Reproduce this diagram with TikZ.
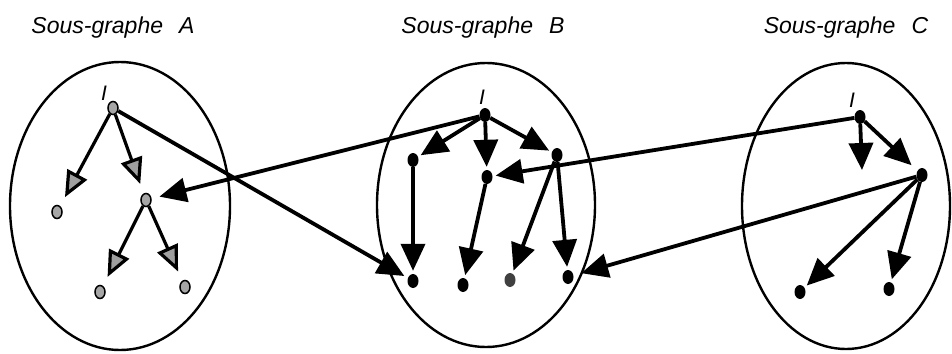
\documentclass[tikz,border=0pt]{standalone}
\usepackage{fontspec}
\setmainfont{Liberation Sans}
\usetikzlibrary{arrows.meta,shapes.geometric}
\tikzset{
  point/.style={ellipse,fill=black,inner sep=0pt,minimum width=11pt,minimum height=14pt},
  pointgris/.style={ellipse,draw=black,fill=gray!70,line width=1.5pt,inner sep=0pt,minimum width=10pt,minimum height=13pt},
  arc/.style={line width=3.8pt,shorten >=3pt,-{Triangle[length=27pt,width=24pt]}},
  arcgris/.style={line width=3.2pt,shorten >=10pt,-{Triangle[length=26pt,width=22pt,fill=gray!75]}},
  titre/.style={font=\itshape\fontsize{23}{27}\selectfont},
  racine/.style={font=\itshape\fontsize{21}{25}\selectfont}
}
\begin{document}
\begin{tikzpicture}[x=1pt,y=-1pt]
\useasboundingbox (0,0) rectangle (952,353);
\node[titre] (tA) at (113,28) {Sous-graphe\hspace{0.7em}A};
\node[titre] (tB) at (483,28) {Sous-graphe\hspace{0.7em}B};
\node[titre] (tC) at (846,28) {Sous-graphe\hspace{0.7em}C};
\draw[line width=2.4pt] (120,206) ellipse [x radius=110,y radius=144];
\draw[line width=2.4pt] (486,205) ellipse [x radius=109,y radius=142];
\draw[line width=2.4pt] (846,206) ellipse [x radius=104,y radius=143];
\node[pointgris] (A0) at (113,108) {};
\node[pointgris] (A1) at (57,212) {};
\node[pointgris] (A2) at (146,200) {};
\node[pointgris] (A3) at (100,292) {};
\node[pointgris] (A4) at (185,287) {};
\node[racine] (lA) at (104,93) {I};
\node[point] (B0) at (485,115) {};
\node[point] (B1) at (413,160) {};
\node[point] (B2) at (487,177) {};
\node[point] (B3) at (557,155) {};
\node[point] (B4) at (413,281) {};
\node[point] (B5) at (463,285) {};
\node[point,fill=black!75] (B6) at (510,280) {};
\node[point] (B7) at (568,277) {};
\node[racine] (lB) at (482,97) {I};
\node[point] (C0) at (860,117) {};
\node[point] (C1) at (922,175) {};
\node[point] (C2) at (800,292) {};
\node[point] (C3) at (889,289) {};
\coordinate (C4) at (862,170);
\node[racine] (lC) at (852,100) {I};
\draw[arcgris] (A0) -- (A1);
\draw[arcgris] (A0) -- (A2);
\draw[arcgris] (A2) -- (A3);
\draw[arcgris] (A2) -- (A4);
\draw[arc] (B0) -- (B1);
\draw[arc] (B0) -- (B2);
\draw[arc] (B0) -- (B3);
\draw[arc] (B1) -- (B4);
\draw[arc] (B2) -- (B5);
\draw[arc] (B3) -- (B6);
\draw[arc] (B3) -- (B7);
\draw[arc,shorten >=0pt] (C0) -- (C4);
\draw[arc,shorten >=8pt] (C0) -- (C1);
\draw[arc] (C1) -- (C2);
\draw[arc] (C1) -- (C3);
\draw[arc,shorten >=4pt] (A0) -- (B4);
\draw[arc,shorten >=8pt] (B0) -- (A2);
\draw[arc] (C0) -- (B2);
\draw[arc,shorten >=8pt] (C1) -- (B7);
\end{tikzpicture}
\end{document}
